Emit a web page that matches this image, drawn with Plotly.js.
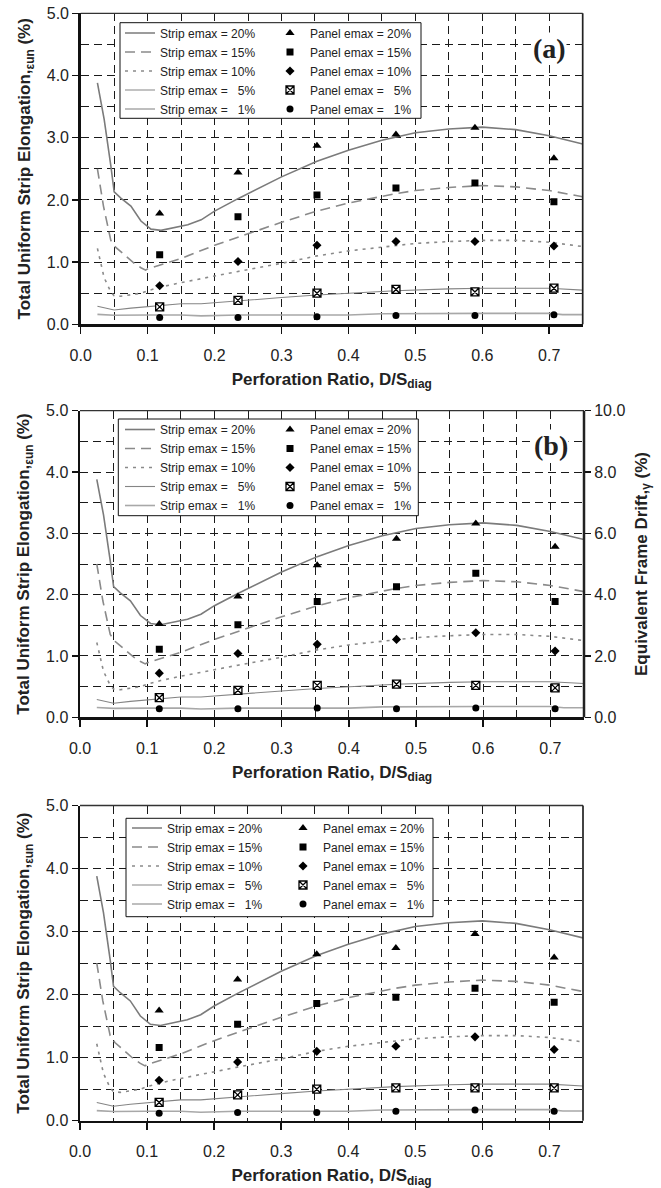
<!DOCTYPE html>
<html><head><meta charset="utf-8">
<script src="https://cdn.plot.ly/plotly-3.0.1.min.js"></script>
<style>html,body{margin:0;padding:0;background:#fff;}#chart{width:661px;height:1188px;}</style>
</head><body><div id="chart"></div>
<script>
// ---------- data ----------
const xTicks = [0.0, 0.1, 0.2, 0.3, 0.4, 0.5, 0.6, 0.7];
const yTicks = [0.0, 1.0, 2.0, 3.0, 4.0, 5.0];
const y2Ticks = [0.0, 2.0, 4.0, 6.0, 8.0, 10.0];

const xPanel = [0.118, 0.235, 0.353, 0.471, 0.589, 0.707];

// analytical strip curves (same in all three panels)
const strip20X = [0.025, 0.035, 0.045, 0.05, 0.06, 0.075, 0.09, 0.105, 0.12, 0.14, 0.16, 0.18, 0.2, 0.235, 0.3, 0.353, 0.4, 0.45, 0.5, 0.55, 0.6, 0.65, 0.7, 0.75];
const strip20Y = [3.88, 3.3, 2.55, 2.13, 2.03, 1.9, 1.66, 1.53, 1.51, 1.55, 1.6, 1.68, 1.82, 2.02, 2.37, 2.62, 2.8, 2.96, 3.08, 3.14, 3.17, 3.13, 3.03, 2.90];
const strip15X = [0.025, 0.034, 0.045, 0.052, 0.065, 0.08, 0.09, 0.097, 0.1, 0.12, 0.15, 0.2, 0.235, 0.3, 0.353, 0.4, 0.47, 0.5, 0.55, 0.6, 0.65, 0.7, 0.75];
const strip15Y = [2.5, 1.9, 1.35, 1.24, 1.12, 0.98, 0.91, 0.87, 0.89, 0.96, 1.06, 1.27, 1.4, 1.64, 1.82, 1.95, 2.1, 2.15, 2.2, 2.23, 2.21, 2.15, 2.05];
const strip10X = [0.025, 0.035, 0.045, 0.05, 0.06, 0.075, 0.09, 0.1, 0.12, 0.15, 0.2, 0.235, 0.3, 0.353, 0.4, 0.47, 0.5, 0.55, 0.6, 0.65, 0.7, 0.75];
const strip10Y = [1.22, 0.75, 0.52, 0.46, 0.45, 0.47, 0.5, 0.54, 0.6, 0.67, 0.78, 0.85, 0.98, 1.1, 1.18, 1.27, 1.3, 1.33, 1.35, 1.35, 1.32, 1.25];
const strip5X = [0.025, 0.05, 0.075, 0.1, 0.12, 0.15, 0.18, 0.235, 0.3, 0.353, 0.4, 0.47, 0.55, 0.6, 0.7, 0.75];
const strip5Y = [0.29, 0.23, 0.26, 0.28, 0.30, 0.33, 0.33, 0.38, 0.43, 0.47, 0.50, 0.54, 0.57, 0.58, 0.58, 0.55];
const strip1X = [0.025, 0.05, 0.1, 0.15, 0.18, 0.235, 0.3, 0.353, 0.4, 0.45, 0.5, 0.6, 0.7, 0.72, 0.75];
const strip1Y = [0.16, 0.145, 0.15, 0.15, 0.135, 0.15, 0.15, 0.15, 0.15, 0.17, 0.175, 0.175, 0.175, 0.155, 0.155];

// panel (test) results
const panelA20 = [1.78, 2.44, 2.87, 3.05, 3.16, 2.67];
const panelA15 = [1.12, 1.73, 2.08, 2.19, 2.27, 1.97];
const panelA10 = [0.62, 1.01, 1.27, 1.33, 1.33, 1.26];
const panelA5  = [0.28, 0.385, 0.50, 0.56, 0.52, 0.58];
const panelA1  = [0.11, 0.11, 0.12, 0.14, 0.14, 0.155];

const panelB20 = [1.52, 1.97, 2.48, 2.91, 3.16, 2.78];
const panelB15 = [1.11, 1.51, 1.89, 2.13, 2.35, 1.89];
const panelB10 = [0.72, 1.04, 1.19, 1.27, 1.38, 1.08];
const panelB5  = [0.32, 0.44, 0.52, 0.54, 0.52, 0.48];
const panelB1  = [0.14, 0.14, 0.15, 0.14, 0.15, 0.14];

const panelC20 = [1.75, 2.24, 2.64, 2.74, 2.96, 2.59];
const panelC15 = [1.16, 1.53, 1.86, 1.96, 2.10, 1.88];
const panelC10 = [0.64, 0.93, 1.10, 1.18, 1.33, 1.13];
const panelC5  = [0.29, 0.41, 0.50, 0.52, 0.52, 0.52];
const panelC1  = [0.12, 0.13, 0.13, 0.15, 0.17, 0.15];

const stripNames = ['Strip emax = 20%', 'Strip emax = 15%', 'Strip emax = 10%', 'Strip emax = \u20075%', 'Strip emax = \u20071%'];
const panelNames = ['Panel emax = 20%', 'Panel emax = 15%', 'Panel emax = 10%', 'Panel emax = \u20075%', 'Panel emax = \u20071%'];
const panelLabels = ['(a)', '(b)', ''];

// ---------- styles ----------
const W = 661, H = 1188;
const FONT = 'Liberation Sans, Arial, Helvetica, sans-serif';
const stripX = [strip20X, strip15X, strip10X, strip5X, strip1X];
const stripY = [strip20Y, strip15Y, strip10Y, strip5Y, strip1Y];
const stripColor = ['#7b7b7b', '#8a8a8a', '#8a8a8a', '#858585', '#a8a8a8'];
const stripDash = ['solid', '10px,6px', '3px,5px', 'solid', 'solid'];
const stripWidth = [1.6, 1.6, 1.6, 1.1, 1.6];
const mSymbol = ['triangle-up', 'square', 'diamond', 'square-x', 'circle'];
const mSize = [8, 7, 7, 8, 7];
const mFill = ['#000', '#000', '#000', '#fff', '#000'];

const panelsY = [
  [panelA20, panelA15, panelA10, panelA5, panelA1],
  [panelB20, panelB15, panelB10, panelB5, panelB1],
  [panelC20, panelC15, panelC10, panelC5, panelC1]
];

// plot areas in pixels [left, right, top, bottom]
const boxes = [
  [80.7, 582.7, 13.3, 324.3],
  [80.0, 584.0, 410.7, 717.3],
  [80.0, 583.0, 805.5, 1120.7]
];
// legend geometry: [boxL, boxR, boxT, boxB, stripLegendX, panelLegendX, legendTop]
const legs = [
  [120, 421, 22.7, 118.3, 120, 270, 18.5],
  [118.3, 418.3, 419, 515.7, 120, 270, 415.0],
  [126, 433, 818.3, 916.7, 127, 283, 813.5]
];
const labelPos = [[549, 49], [551, 445.5]];

const px = v => v / W;
const py = v => 1 - v / H;

const data = [];
const layout = {
  width: W, height: H,
  margin: {l: 0, r: 0, t: 0, b: 0},
  paper_bgcolor: '#fff', plot_bgcolor: '#fff',
  font: {family: FONT, size: 16, color: '#111'},
  showlegend: true,
  shapes: [], annotations: []
};

const gridStyle = {color: '#1a1a1a', dash: '8px,5px', width: 1};

for (let p = 0; p < 3; p++) {
  const sfx = p === 0 ? '' : String(p + 1);
  const xa = 'x' + sfx, ya = 'y' + sfx;
  const legA = p === 0 ? 'legend' : 'legend' + (2 * p + 1);
  const legB = 'legend' + (2 * p + 2);
  for (let i = 0; i < 5; i++) {
    data.push({
      type: 'scatter', mode: 'lines', x: stripX[i], y: stripY[i],
      xaxis: xa, yaxis: ya, name: stripNames[i], legend: legA,
      line: {color: stripColor[i], dash: stripDash[i], width: stripWidth[i]},
      hoverinfo: 'skip'
    });
  }
  for (let i = 0; i < 5; i++) {
    data.push({
      type: 'scatter', mode: 'markers', x: xPanel, y: panelsY[p][i],
      xaxis: xa, yaxis: ya, name: panelNames[i], legend: legB,
      marker: {symbol: mSymbol[i], size: mSize[i], color: mFill[i], line: {color: '#000', width: i === 3 ? 1.3 : 0}},
      hoverinfo: 'skip'
    });
  }
  const b = boxes[p];
  layout['xaxis' + sfx] = {
    domain: [px(b[0]), px(b[1])], anchor: ya, range: [0, 0.75],
    tickvals: xTicks, ticktext: xTicks.map(v => v.toFixed(1)),
    ticks: 'outside', ticklen: 7, tickwidth: 1.5, tickcolor: '#111',
    ticklabelstandoff: 8,
    showline: true, linecolor: '#111', linewidth: 2.5,
    showgrid: true, gridcolor: gridStyle.color, griddash: gridStyle.dash, gridwidth: 1,
    minor: {dtick: 0.05, tick0: 0, showgrid: true, gridcolor: gridStyle.color, griddash: gridStyle.dash, gridwidth: 1, ticks: ''},
    zeroline: false, fixedrange: true,
    tickfont: {size: 16, family: FONT, color: '#222'},
    title: {text: '<b>Perforation Ratio, D/S<sub>diag</sub></b>', font: {size: 17, family: FONT, color: '#222'}, standoff: 10}
  };
  layout['yaxis' + sfx] = {
    domain: [py(b[3]), py(b[2])], anchor: xa, range: [0, 5],
    tickvals: yTicks, ticktext: yTicks.map(v => v.toFixed(1)),
    ticks: 'outside', ticklen: 6, tickwidth: 1.5, tickcolor: '#111',
    showline: true, linecolor: '#111', linewidth: 2.5,
    showgrid: true, gridcolor: gridStyle.color, griddash: gridStyle.dash, gridwidth: 1,
    minor: {dtick: 0.5, tick0: 0, showgrid: true, gridcolor: gridStyle.color, griddash: gridStyle.dash, gridwidth: 1, ticks: ''},
    zeroline: false, fixedrange: true,
    tickfont: {size: 16, family: FONT, color: '#222'},
    title: {text: '<b>Total Uniform Strip Elongation,<sub>εun</sub> (%)</b>', font: {size: 17, family: FONT, color: '#222'}, standoff: 12}
  };
  // frame (top and right edges)
  layout.shapes.push({type: 'line', xref: 'paper', yref: 'paper', x0: px(b[0]), x1: px(b[1]), y0: py(b[2]), y1: py(b[2]), line: {color: '#333', width: 1.3}, layer: 'above'});
  layout.shapes.push({type: 'line', xref: 'paper', yref: 'paper', x0: px(b[1]), x1: px(b[1]), y0: py(b[3]), y1: py(b[2]), line: {color: '#222', width: p === 1 ? 2.5 : 1.7}, layer: 'above'});
  // legend box
  const L = legs[p];
  layout.shapes.push({type: 'rect', xref: 'paper', yref: 'paper', x0: px(L[0]), x1: px(L[1]), y0: py(L[3]), y1: py(L[2]), fillcolor: '#fff', line: {color: '#111', width: 1}, layer: 'above'});
  const legFont = {size: 12, family: FONT, color: '#222'};
  layout[legA] = {x: px(L[4]), y: py(L[6]), xanchor: 'left', yanchor: 'top', xref: 'paper', yref: 'paper', bgcolor: 'rgba(0,0,0,0)', borderwidth: 0, font: legFont, itemclick: false, itemdoubleclick: false};
  layout[legB] = {x: px(L[5]), y: py(L[6]), xanchor: 'left', yanchor: 'top', xref: 'paper', yref: 'paper', bgcolor: 'rgba(0,0,0,0)', borderwidth: 0, font: legFont, itemclick: false, itemdoubleclick: false};
  if (panelLabels[p]) {
    layout.annotations.push({
      text: '<b>' + panelLabels[p] + '</b>', xref: 'paper', yref: 'paper',
      x: px(labelPos[p][0]), y: py(labelPos[p][1]), xanchor: 'center', yanchor: 'middle',
      showarrow: false, bgcolor: '#fff', borderpad: 0,
      font: {family: 'Liberation Serif, Times New Roman, serif', size: 28, color: '#222'}
    });
  }
}

// right axis of panel (b): equivalent frame drift
data.push({type: 'scatter', mode: 'lines', x: [], y: [], xaxis: 'x2', yaxis: 'y4', showlegend: false, hoverinfo: 'skip'});
layout.yaxis4 = {
  overlaying: 'y2', side: 'right', anchor: 'x2', range: [0, 10],
  tickvals: y2Ticks, ticktext: y2Ticks.map(v => v.toFixed(1)),
  ticks: 'outside', ticklen: 6, tickwidth: 1.5, tickcolor: '#111',
  showline: false, showgrid: false, zeroline: false, fixedrange: true,
  tickfont: {size: 16, family: FONT, color: '#222'},
  title: {text: '<b>Equivalent Frame Drift,<sub>γ</sub> (%)</b>', font: {size: 17, family: FONT, color: '#222'}, standoff: 10}
};

Plotly.newPlot('chart', data, layout, {displayModeBar: false, staticPlot: true});
</script></body></html>
